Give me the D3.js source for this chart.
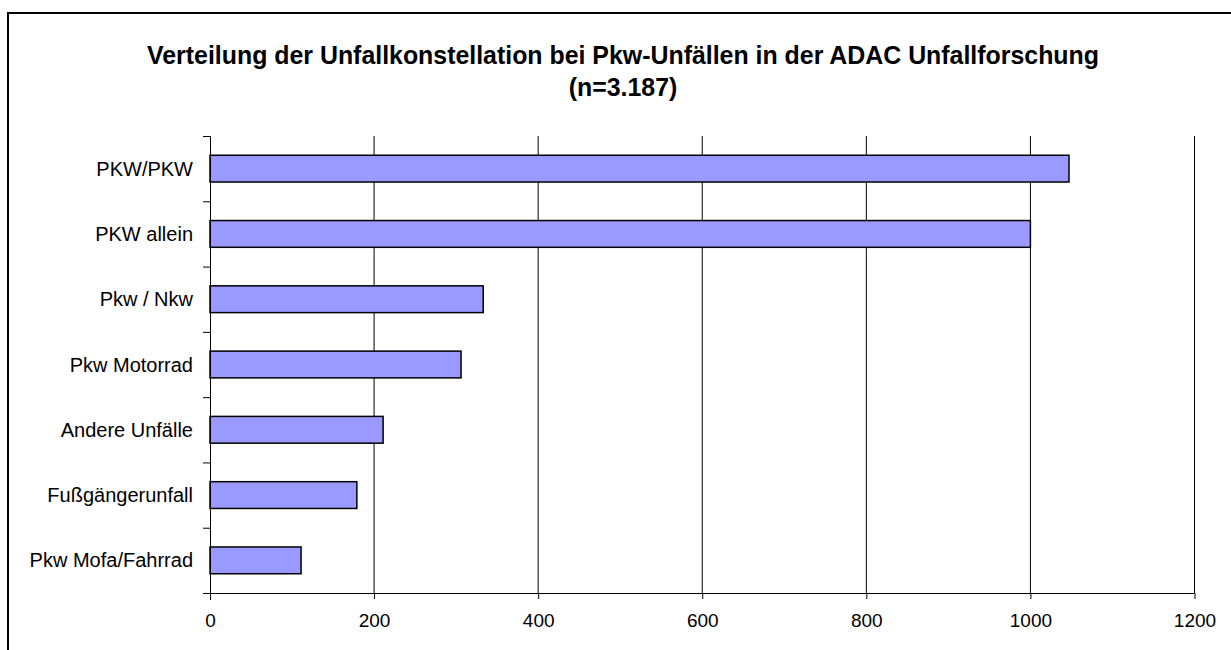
<!DOCTYPE html>
<html>
<head>
<meta charset="utf-8">
<script src="https://d3js.org/d3.v7.min.js"></script>
<style>
  body { margin: 0; background: #fff; }
  svg { display: block; }
</style>
</head>
<body>
<div id="chart"></div>
<script>
// Daten
var categories = ["PKW/PKW", "PKW allein", "Pkw / Nkw", "Pkw Motorrad", "Andere Unfälle", "Fußgängerunfall", "Pkw Mofa/Fahrrad"];
var values = [1047, 1000, 333, 306, 211, 179, 111];
var xTicks = [0, 200, 400, 600, 800, 1000, 1200];
var titleLines = ["Verteilung der Unfallkonstellation bei Pkw-Unfällen in der ADAC Unfallforschung", "(n=3.187)"];

var svgWidth = 1231;
var svgHeight = 650;

var margin = { top: 136, bottom: 57, left: 210, right: 36.5 };
var chartWidth = svgWidth - margin.left - margin.right;
var chartHeight = svgHeight - margin.top - margin.bottom;

var svg = d3.select("#chart")
  .append("svg")
  .attr("width", svgWidth)
  .attr("height", svgHeight)
  .style("font-family", "'Liberation Sans', Arial, sans-serif");

// outer frame (runs off the right and bottom edge)
svg.append("rect")
  .attr("x", 8)
  .attr("y", 13)
  .attr("width", 1240)
  .attr("height", 660)
  .attr("fill", "none")
  .attr("stroke", "#000")
  .attr("stroke-width", 2);

svg.selectAll("text.title")
  .data(titleLines)
  .enter()
  .append("text")
  .attr("class", "title")
  .attr("x", 623)
  .attr("y", (d, i) => 64 + i * 32)
  .attr("text-anchor", "middle")
  .attr("font-weight", "bold")
  .attr("font-size", "24.9px")
  .text(d => d);

var chartGroup = svg.append("g")
  .attr("transform", `translate(${margin.left}, ${margin.top})`);

var xScale = d3.scaleLinear()
  .domain([0, 1200])
  .range([0, chartWidth]);

var yScale = d3.scaleBand()
  .domain(categories)
  .range([0, chartHeight])
  .paddingInner(0.59)
  .paddingOuter(0.295);

// vertical gridlines
chartGroup.selectAll("line.grid")
  .data(xTicks.slice(1))
  .enter()
  .append("line")
  .attr("class", "grid")
  .attr("x1", d => xScale(d))
  .attr("x2", d => xScale(d))
  .attr("y1", 0)
  .attr("y2", chartHeight)
  .attr("stroke", "#000")
  .attr("stroke-width", 1);

// bars
chartGroup.selectAll("rect.bar")
  .data(values)
  .enter()
  .append("rect")
  .attr("class", "bar")
  .attr("x", xScale(0))
  .attr("y", (d, i) => yScale(categories[i]))
  .attr("width", d => xScale(d) - xScale(0))
  .attr("height", yScale.bandwidth())
  .attr("fill", "#9999ff")
  .attr("stroke", "#000")
  .attr("stroke-width", 1.5);

// x axis
var xAxis = d3.axisBottom(xScale)
  .tickValues(xTicks)
  .tickFormat(d3.format("d"))
  .tickSize(6)
  .tickSizeOuter(0);

var xg = chartGroup.append("g")
  .attr("transform", `translate(0, ${chartHeight})`)
  .call(xAxis);
xg.attr("font-size", null).attr("font-family", null);
xg.select(".domain").attr("stroke", "#000").attr("d", `M-7,0.5H${chartWidth}`);
xg.selectAll("text")
  .attr("font-size", "19px")
  .attr("fill", "#000")
  .attr("y", 21)
  .attr("dy", "0.71em");

// y axis: line plus ticks between categories
chartGroup.append("line")
  .attr("x1", 0.5)
  .attr("x2", 0.5)
  .attr("y1", 0)
  .attr("y2", chartHeight + 7)
  .attr("stroke", "#000");

var step = yScale.step();
var boundaries = d3.range(categories.length).map(i => i * step);
chartGroup.selectAll("line.ytick")
  .data(boundaries)
  .enter()
  .append("line")
  .attr("class", "ytick")
  .attr("x1", -7)
  .attr("x2", 0)
  .attr("y1", d => d + 0.5)
  .attr("y2", d => d + 0.5)
  .attr("stroke", "#000");

chartGroup.selectAll("text.ylabel")
  .data(categories)
  .enter()
  .append("text")
  .attr("class", "ylabel")
  .attr("x", -17)
  .attr("y", d => yScale(d) + yScale.bandwidth() / 2)
  .attr("dy", "0.35em")
  .attr("text-anchor", "end")
  .attr("font-size", "20px")
  .text(d => d);
</script>
</body>
</html>
